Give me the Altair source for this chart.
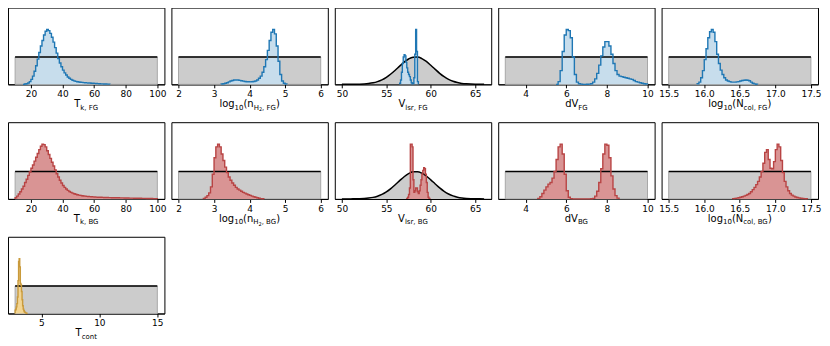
import altair as alt
import pandas as pd

# ---------------- data ----------------
# uniform prior ranges (lower, upper)
tk_prior = [10.0, 100.0]
logn_prior = [2.0, 6.0]
dv_prior = [3.0, 10.0]
ncol_prior = [15.5, 17.5]
tcont_prior = [2.73, 15.0]
prior_level = 0.5

# Gaussian prior on V_lsr, sampled off the curve
vlsr_prior_x = [50.0, 50.5, 51.0, 51.5, 52.0, 52.5, 53.0, 53.5, 54.0, 54.5, 55.0,
                55.5, 56.0, 56.5, 57.0, 57.5, 58.0, 58.5, 59.0, 59.5, 60.0, 60.5,
                61.0, 61.5, 62.0, 62.5, 63.0, 63.5, 64.0, 64.5, 65.0, 65.5, 66.0]
vlsr_prior_y = [0.0001, 0.0003, 0.0006, 0.0015, 0.0035, 0.0075, 0.015, 0.028, 0.05,
                0.082, 0.128, 0.188, 0.258, 0.333, 0.405, 0.462, 0.494, 0.497, 0.47,
                0.418, 0.348, 0.273, 0.201, 0.139, 0.09, 0.055, 0.032, 0.017, 0.0086,
                0.0041, 0.0018, 0.0008, 0.0003]

# posterior histograms: first bin edge, bin width, peak-normalised heights
tk_fg_start, tk_fg_step = 15.0, 1.0
tk_fg_counts = [0.0, 0.005, 0.01, 0.025, 0.05, 0.09, 0.15, 0.24, 0.34, 0.46, 0.58, 0.7,
                0.8, 0.9, 0.97, 1.0, 0.98, 0.93, 0.86, 0.77, 0.67, 0.57, 0.47, 0.39,
                0.32, 0.26, 0.21, 0.17, 0.135, 0.11, 0.09, 0.075, 0.063, 0.054, 0.047,
                0.042, 0.038, 0.035, 0.032, 0.029, 0.027, 0.025, 0.023, 0.021, 0.019,
                0.017, 0.015, 0.013, 0.011, 0.009, 0.008, 0.006, 0.005, 0.004, 0.003]

logn_fg_start, logn_fg_step = 3.2, 0.05
logn_fg_counts = [0.005, 0.01, 0.02, 0.03, 0.045, 0.06, 0.07, 0.078, 0.08, 0.078, 0.072,
                  0.065, 0.058, 0.052, 0.048, 0.046, 0.045, 0.047, 0.052, 0.062, 0.08,
                  0.11, 0.15, 0.22, 0.32, 0.45, 0.62, 0.8, 0.95, 1.0, 0.92, 0.7, 0.42,
                  0.18, 0.06, 0.02, 0.005]

vlsr_fg_start, vlsr_fg_step = 56.5, 0.1
vlsr_fg_counts = [0.02, 0.08, 0.22, 0.38, 0.5, 0.54, 0.52, 0.4, 0.3, 0.22, 0.18, 0.14,
                  0.08, 0.03, 0.01, 0.02, 0.12, 0.55, 1.0, 0.6, 0.05]

dv_fg_start, dv_fg_step = 5.5, 0.1
dv_fg_counts = [0.0, 0.05, 0.25, 0.6, 0.9, 1.0, 0.98, 0.85, 0.5, 0.18, 0.04, 0.01, 0.003,
                0.0, 0.0, 0.002, 0.004, 0.01, 0.04, 0.1, 0.2, 0.35, 0.52, 0.68, 0.78,
                0.78, 0.7, 0.55, 0.38, 0.25, 0.18, 0.15, 0.14, 0.13, 0.12, 0.11, 0.1,
                0.09, 0.07, 0.05, 0.04, 0.03, 0.02, 0.01, 0.005]

ncol_fg_start, ncol_fg_step = 15.9, 0.025
ncol_fg_counts = [0.01, 0.04, 0.12, 0.25, 0.45, 0.65, 0.85, 0.96, 1.0, 0.95, 0.78, 0.55,
                  0.38, 0.26, 0.18, 0.12, 0.08, 0.06, 0.05, 0.04, 0.04, 0.04, 0.045,
                  0.05, 0.06, 0.07, 0.075, 0.08, 0.075, 0.065, 0.04, 0.02, 0.008, 0.002]

tk_bg_start, tk_bg_step = 10.0, 1.0
tk_bg_counts = [0.02, 0.05, 0.09, 0.13, 0.18, 0.23, 0.3, 0.36, 0.43, 0.49, 0.56, 0.62,
                0.69, 0.76, 0.83, 0.9, 0.96, 1.0, 0.99, 0.95, 0.88, 0.81, 0.74, 0.67,
                0.6, 0.53, 0.46, 0.4, 0.34, 0.29, 0.245, 0.21, 0.18, 0.155, 0.135, 0.12,
                0.105, 0.095, 0.085, 0.077, 0.07, 0.064, 0.058, 0.054, 0.05, 0.047,
                0.044, 0.041, 0.039, 0.037, 0.035, 0.033, 0.031, 0.03, 0.029, 0.028,
                0.027, 0.026, 0.025, 0.024, 0.023, 0.022, 0.021, 0.021, 0.02, 0.02,
                0.019, 0.019, 0.018, 0.017, 0.017, 0.016, 0.015, 0.015, 0.014, 0.013,
                0.013, 0.012, 0.011, 0.011, 0.01, 0.01, 0.009, 0.008, 0.008, 0.007,
                0.007, 0.006, 0.006, 0.005]

logn_bg_start, logn_bg_step = 2.7, 0.05
logn_bg_counts = [0.01, 0.03, 0.06, 0.11, 0.22, 0.45, 0.75, 0.95, 1.0, 0.95, 0.82, 0.7,
                  0.58, 0.48, 0.4, 0.34, 0.29, 0.25, 0.21, 0.18, 0.16, 0.14, 0.12, 0.105,
                  0.09, 0.075, 0.065, 0.05, 0.04, 0.03, 0.02, 0.012, 0.006, 0.002]

vlsr_bg_start, vlsr_bg_step = 57.3, 0.1
vlsr_bg_counts = [0.01, 0.03, 0.08, 0.2, 1.0, 1.0, 0.95, 0.35, 0.12, 0.15, 0.2, 0.2,
                  0.13, 0.1, 0.15, 0.25, 0.35, 0.45, 0.52, 0.57, 0.55, 0.45, 0.3, 0.12,
                  0.03, 0.01]

dv_bg_start, dv_bg_step = 4.6, 0.1
dv_bg_counts = [0.01, 0.04, 0.1, 0.16, 0.22, 0.27, 0.3, 0.38, 0.5, 0.72, 0.95, 1.0, 0.82,
                0.45, 0.15, 0.03, 0.005, 0.0, 0.0, 0.0, 0.0, 0.0, 0.0, 0.0, 0.0, 0.0,
                0.002, 0.01, 0.05, 0.14, 0.3, 0.55, 0.82, 1.0, 0.98, 0.75, 0.42, 0.18,
                0.06, 0.015]

ncol_bg_start, ncol_bg_step = 16.4, 0.025
ncol_bg_counts = [0.005, 0.01, 0.015, 0.02, 0.03, 0.04, 0.05, 0.065, 0.08, 0.1, 0.13,
                  0.17, 0.21, 0.26, 0.32, 0.4, 0.5, 0.65, 0.85, 0.9, 0.72, 0.56, 0.55,
                  0.68, 0.9, 1.0, 0.95, 0.7, 0.48, 0.32, 0.22, 0.15, 0.1, 0.07, 0.05,
                  0.035, 0.025, 0.018, 0.012, 0.008, 0.005, 0.003]

tcont_start, tcont_step = 2.73, 0.05
tcont_counts = [0.06, 0.08, 0.12, 0.18, 0.3, 0.6, 0.95, 1.0, 0.85, 0.55, 0.52, 0.4, 0.25,
                0.14, 0.08, 0.05, 0.03, 0.02, 0.012, 0.006, 0.003]

# axis tick values
tk_ticks = [20, 40, 60, 80, 100]
logn_ticks = [2, 3, 4, 5, 6]
vlsr_ticks = [50, 55, 60, 65]
dv_ticks = [4, 6, 8, 10]
ncol_ticks = [15.5, 16.0, 16.5, 17.0, 17.5]
tcont_ticks = [5, 10, 15]

# ---------------- styling / layout ----------------
W, H = 157, 77
YMAX = 1.4
FG = ("#1f77b4", "#c7ddec")
BG = ("#b84444", "#d99494")
TC = ("#c99a3b", "#f3d593")
PRIOR_FILL = "#cccccc"

CHAR_W = {' ': 651, ',': 651, '(': 799, ')': 799, '.': 651, 'B': 1405, 'F': 1178,
          'G': 1587, 'H': 1540, 'N': 1532, 'T': 1251, 'V': 1401, 'c': 1126, 'd': 1300,
          'g': 1300, 'k': 1186, 'l': 569, 'n': 1298, 'o': 1253, 'r': 842, 's': 1067,
          't': 803}


def text_width(t, size):
    return sum(CHAR_W.get(c, 1303) for c in t) / 2048.0 * size


TITLES = {
    "tk": lambda tag: [("T", 10, 0), ("k, " + tag, 7, 2.5)],
    "logn": lambda tag: [("log", 10, 0), ("10", 7, 2.5), ("(n", 10, 0), ("H", 7, 2.5),
                         ("2", 5, 4.0), (", " + tag, 7, 2.5), (")", 10, 0)],
    "vlsr": lambda tag: [("V", 10, 0), ("lsr, " + tag, 7, 2.5)],
    "dv": lambda tag: [("dV", 10, 0), (tag, 7, 2.5)],
    "ncol": lambda tag: [("log", 10, 0), ("10", 7, 2.5), ("(N", 10, 0),
                         ("col, " + tag, 7, 2.5), (")", 10, 0)],
}


def hist_df(start, step, counts):
    xs = [start - 1e-6] + [start + i * step for i in range(len(counts))] + [start + len(counts) * step]
    ys = [0.0] + list(counts) + [0.0]
    return pd.DataFrame({"x": xs, "y": ys})


def pad(lo, hi):
    m = 0.05 * (hi - lo)
    return [lo - m, hi + m]


def panel(domain, ticks, fmt, hist, colors, segments, prior=None, gauss=None):
    xscale = alt.Scale(domain=domain, nice=False, zero=False)
    ax = alt.Axis(values=ticks, format=fmt, title=None)
    yscale = alt.Scale(domain=[0, YMAX], nice=False, zero=False)
    hd = hist_df(*hist)
    layers = []
    if prior is not None:
        pdf = pd.DataFrame({"lo": [prior[0]], "hi": [prior[1]], "level": [prior_level]})
        base = alt.Chart(pdf)
        layers.append(base.mark_rect(fill=PRIOR_FILL, stroke="#a8a8a8", strokeWidth=1).encode(
            x=alt.X("lo:Q", scale=xscale, axis=ax), x2="hi:Q",
            y=alt.Y("level:Q", scale=yscale, axis=None), y2=alt.datum(0)))
    else:
        gdf = pd.DataFrame({"x": gauss[0], "y": gauss[1]})
        layers.append(alt.Chart(gdf).mark_area(color=PRIOR_FILL, interpolate="monotone").encode(
            x=alt.X("x:Q", scale=xscale, axis=ax), y=alt.Y("y:Q", scale=yscale, axis=None)))
    layers.append(alt.Chart(hd).mark_area(color=colors[1], interpolate="step-after").encode(
        x=alt.X("x:Q", scale=xscale, axis=ax), y=alt.Y("y:Q", scale=yscale, axis=None)))
    if prior is not None:
        layers.append(base.mark_rule(color="black", strokeWidth=1.5).encode(
            x=alt.X("lo:Q", scale=xscale, axis=ax), x2="hi:Q",
            y=alt.Y("level:Q", scale=yscale, axis=None)))
    else:
        layers.append(alt.Chart(gdf).mark_line(color="black", strokeWidth=1.5, interpolate="monotone").encode(
            x=alt.X("x:Q", scale=xscale, axis=ax), y=alt.Y("y:Q", scale=yscale, axis=None)))
    layers.append(alt.Chart(hd).mark_line(color=colors[0], strokeWidth=1.4, interpolate="step-after").encode(
        x=alt.X("x:Q", scale=xscale, axis=ax), y=alt.Y("y:Q", scale=yscale, axis=None)))
    # axis label with subscripts, built from text pieces
    total = sum(text_width(t, s) for t, s, _ in segments)
    x0 = W / 2 - total / 2
    for t, s, dy in segments:
        layers.append(alt.Chart(alt.Data(values=[{"t": t}])).mark_text(
            align="left", baseline="alphabetic", fontSize=s, font="DejaVu Sans", color="black"
        ).encode(text="t:N", x=alt.value(x0), y=alt.value(H + 23 + dy)))
        x0 += text_width(t, s)
    return alt.layer(*layers).properties(width=W, height=H)


gauss = (vlsr_prior_x, vlsr_prior_y)
panels = [
    panel(pad(*tk_prior), tk_ticks, "d", (tk_fg_start, tk_fg_step, tk_fg_counts), FG, TITLES["tk"]("FG"), prior=tk_prior),
    panel(pad(*logn_prior), logn_ticks, "d", (logn_fg_start, logn_fg_step, logn_fg_counts), FG, TITLES["logn"]("FG"), prior=logn_prior),
    panel(pad(50.0, 66.0), vlsr_ticks, "d", (vlsr_fg_start, vlsr_fg_step, vlsr_fg_counts), FG, TITLES["vlsr"]("FG"), gauss=gauss),
    panel(pad(*dv_prior), dv_ticks, "d", (dv_fg_start, dv_fg_step, dv_fg_counts), FG, TITLES["dv"]("FG"), prior=dv_prior),
    panel(pad(*ncol_prior), ncol_ticks, ".1f", (ncol_fg_start, ncol_fg_step, ncol_fg_counts), FG, TITLES["ncol"]("FG"), prior=ncol_prior),
    panel(pad(*tk_prior), tk_ticks, "d", (tk_bg_start, tk_bg_step, tk_bg_counts), BG, TITLES["tk"]("BG"), prior=tk_prior),
    panel(pad(*logn_prior), logn_ticks, "d", (logn_bg_start, logn_bg_step, logn_bg_counts), BG, TITLES["logn"]("BG"), prior=logn_prior),
    panel(pad(50.0, 66.0), vlsr_ticks, "d", (vlsr_bg_start, vlsr_bg_step, vlsr_bg_counts), BG, TITLES["vlsr"]("BG"), gauss=gauss),
    panel(pad(*dv_prior), dv_ticks, "d", (dv_bg_start, dv_bg_step, dv_bg_counts), BG, TITLES["dv"]("BG"), prior=dv_prior),
    panel(pad(*ncol_prior), ncol_ticks, ".1f", (ncol_bg_start, ncol_bg_step, ncol_bg_counts), BG, TITLES["ncol"]("BG"), prior=ncol_prior),
    panel(pad(*tcont_prior), tcont_ticks, "d", (tcont_start, tcont_step, tcont_counts), TC,
          [("T", 10, 0), ("cont", 7, 2.5)], prior=tcont_prior),
]

chart = alt.concat(
    *panels, columns=5, spacing={"row": 38, "column": 7}, bounds="flush"
).properties(
    padding={"left": -1, "top": -2, "right": 0, "bottom": 0}, background="white"
).configure_view(
    stroke="black", strokeWidth=1
).configure_axis(grid=False).configure_axisX(
    domain=True, domainColor="black", domainWidth=1, ticks=True, tickColor="black",
    tickSize=3.5, tickWidth=1, labelFont="DejaVu Sans", labelFontSize=9,
    labelColor="black", labelPadding=2, labelFlush=False, labelOverlap=False, zindex=1
)

chart.save("out.html", embed_options={"renderer": "svg", "actions": False})
